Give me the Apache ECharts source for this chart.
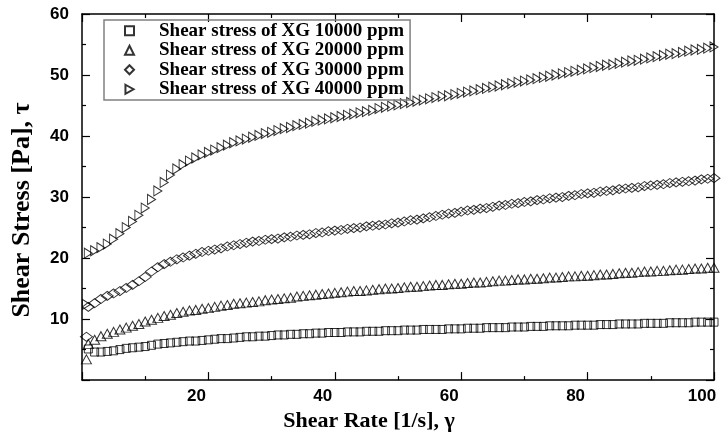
<!DOCTYPE html>
<html>
<head>
<meta charset="utf-8">
<script src="https://cdn.jsdelivr.net/npm/echarts@6.0.0/dist/echarts.min.js"></script>
<style>
  html, body { margin: 0; padding: 0; background: #fff; }
  #shearChart { width: 722px; height: 437px; }
</style>
</head>
<body>
<div id="shearChart"></div>
<script>
// shear rate [1/s]
const shearRate = [
  1, 2, 3, 4, 5, 6, 7, 8, 9, 10,
  11, 12, 13, 14, 15, 16, 17, 18, 19, 20,
  21, 22, 23, 24, 25, 26, 27, 28, 29, 30,
  31, 32, 33, 34, 35, 36, 37, 38, 39, 40,
  41, 42, 43, 44, 45, 46, 47, 48, 49, 50,
  51, 52, 53, 54, 55, 56, 57, 58, 59, 60,
  61, 62, 63, 64, 65, 66, 67, 68, 69, 70,
  71, 72, 73, 74, 75, 76, 77, 78, 79, 80,
  81, 82, 83, 84, 85, 86, 87, 88, 89, 90,
  91, 92, 93, 94, 95, 96, 97, 98, 99, 100
];
// shear stress [Pa] per concentration
const stressXG10000 = [
  5.1, 4.6, 4.6, 4.7, 4.8, 5.0, 5.2, 5.3, 5.4, 5.5,
  5.7, 5.9, 6.0, 6.1, 6.2, 6.3, 6.4, 6.4, 6.5, 6.6,
  6.7, 6.8, 6.8, 6.9, 7.0, 7.1, 7.1, 7.2, 7.2, 7.3,
  7.4, 7.4, 7.5, 7.5, 7.6, 7.6, 7.7, 7.7, 7.8, 7.8,
  7.8, 7.9, 7.9, 7.9, 8.0, 8.0, 8.0, 8.1, 8.1, 8.1,
  8.2, 8.2, 8.2, 8.3, 8.3, 8.3, 8.3, 8.4, 8.4, 8.4,
  8.5, 8.5, 8.5, 8.6, 8.6, 8.6, 8.6, 8.7, 8.7, 8.7,
  8.8, 8.8, 8.8, 8.9, 8.9, 8.9, 8.9, 9.0, 9.0, 9.0,
  9.0, 9.1, 9.1, 9.1, 9.2, 9.2, 9.2, 9.2, 9.3, 9.3,
  9.3, 9.3, 9.4, 9.4, 9.4, 9.4, 9.5, 9.5, 9.5, 9.5
];
const stressXG20000 = [
  5.9, 6.6, 7.2, 7.6, 7.9, 8.3, 8.6, 8.9, 9.2, 9.6,
  9.9, 10.2, 10.5, 10.7, 11.0, 11.2, 11.4, 11.5, 11.7, 11.8,
  12.0, 12.2, 12.3, 12.5, 12.6, 12.7, 12.8, 12.9, 13.1, 13.2,
  13.3, 13.4, 13.5, 13.7, 13.8, 13.9, 14.0, 14.1, 14.2, 14.3,
  14.4, 14.5, 14.6, 14.6, 14.7, 14.8, 14.9, 15.0, 15.0, 15.1,
  15.2, 15.3, 15.3, 15.4, 15.5, 15.6, 15.6, 15.7, 15.8, 15.8,
  15.9, 16.0, 16.0, 16.1, 16.2, 16.3, 16.3, 16.4, 16.5, 16.5,
  16.6, 16.6, 16.7, 16.8, 16.8, 16.9, 17.0, 17.0, 17.1, 17.1,
  17.2, 17.3, 17.3, 17.4, 17.5, 17.6, 17.6, 17.7, 17.8, 17.8,
  17.9, 17.9, 18.0, 18.1, 18.1, 18.2, 18.3, 18.3, 18.4, 18.4
];
const stressXG30000 = [
  12.0, 12.6, 13.3, 13.8, 14.2, 14.6, 15.1, 15.6, 16.2, 16.9,
  17.8, 18.5, 19.0, 19.4, 19.8, 20.1, 20.4, 20.7, 21.0, 21.2,
  21.4, 21.6, 21.9, 22.1, 22.3, 22.5, 22.7, 22.8, 23.0, 23.1,
  23.2, 23.4, 23.5, 23.7, 23.8, 23.9, 24.1, 24.2, 24.4, 24.5,
  24.6, 24.8, 24.9, 25.0, 25.2, 25.3, 25.4, 25.5, 25.7, 25.8,
  26.0, 26.2, 26.3, 26.5, 26.7, 26.9, 27.1, 27.3, 27.4, 27.6,
  27.8, 27.9, 28.1, 28.2, 28.4, 28.6, 28.7, 28.9, 29.0, 29.2,
  29.3, 29.5, 29.6, 29.8, 29.9, 30.0, 30.2, 30.3, 30.5, 30.6,
  30.7, 30.9, 31.0, 31.1, 31.3, 31.4, 31.5, 31.6, 31.8, 31.9,
  32.0, 32.1, 32.3, 32.4, 32.5, 32.6, 32.7, 32.9, 33.0, 33.1
];
const stressXG40000 = [
  20.8, 21.2, 21.7, 22.3, 23.1, 24.0, 25.0, 26.0, 27.0, 28.2,
  29.6, 31.0, 32.4, 33.6, 34.6, 35.3, 35.9, 36.4, 36.9, 37.3,
  37.7, 38.1, 38.5, 38.9, 39.2, 39.5, 39.8, 40.1, 40.4, 40.6,
  40.9, 41.2, 41.4, 41.7, 41.9, 42.1, 42.4, 42.6, 42.8, 43.0,
  43.2, 43.4, 43.6, 43.8, 44.0, 44.2, 44.5, 44.7, 44.9, 45.1,
  45.3, 45.5, 45.7, 45.9, 46.1, 46.3, 46.5, 46.6, 46.8, 47.0,
  47.2, 47.4, 47.6, 47.8, 48.0, 48.2, 48.4, 48.6, 48.8, 49.0,
  49.2, 49.4, 49.6, 49.8, 50.0, 50.2, 50.4, 50.6, 50.8, 51.0,
  51.2, 51.4, 51.6, 51.7, 51.9, 52.1, 52.3, 52.4, 52.6, 52.8,
  53.0, 53.2, 53.4, 53.5, 53.7, 53.9, 54.1, 54.2, 54.4, 54.6
];
// the stray first reading of each run, sitting at the level of the run below
const leadRate = 0.7;
const leadStress = [null, 3.4, 7.1, 12.4];

const seriesNames = [
  "Shear stress of XG 10000 ppm",
  "Shear stress of XG 20000 ppm",
  "Shear stress of XG 30000 ppm",
  "Shear stress of XG 40000 ppm",
];
const stressRuns = [stressXG10000, stressXG20000, stressXG30000, stressXG40000];
const xTicks = [0, 20, 40, 60, 80, 100];
const yTicks = [0, 10, 20, 30, 40, 50, 60];

// marker look per run
const markerShape = ["rect", "triangle", "diamond", "triangle"];
const markerSize = [[8, 8], [10, 9], [12, 9], [10, 8]];
const markerRotate = [0, 0, 0, -90];
// legend keys (the rotated triangle is not carried over to the legend, so draw it)
const legendIcon = ["rect", "triangle", "diamond", "path://M0,0L9,5L0,10Z"];

const chart = echarts.init(document.getElementById("shearChart"));

const sans = "Liberation Sans";
const serif = "Liberation Serif";
const black = "#000";

function axisBase(isX, withLabels) {
  const ticks = isX ? xTicks : yTicks;
  return {
    type: "value",
    min: ticks[0],
    max: ticks[ticks.length - 1],
    interval: ticks[1] - ticks[0],
    axisLine: { show: true, onZero: false, lineStyle: { color: black, width: 1.5 } },
    axisTick: { show: true, inside: true, length: 8, lineStyle: { color: black, width: 1.2 } },
    minorTick: { show: true, splitNumber: 2, length: 4, lineStyle: { color: black, width: 1.2 } },
    splitLine: { show: false },
    axisLabel: {
      show: withLabels,
      color: black,
      fontFamily: sans,
      fontWeight: "bold",
      fontSize: 17,
      margin: isX ? 8 : 13,
      padding: isX ? [0, 24, 0, 0] : [6, 0, 0, 0],
      formatter: (v) => (v === 0 ? "" : String(v)),
    },
  };
}

const series = stressRuns.map((run, k) => {
  const points = shearRate.map((x, i) => [x, run[i]]);
  if (leadStress[k] != null) points.unshift([leadRate, leadStress[k]]);
  return {
    name: seriesNames[k],
    type: "scatter",
    data: points,
    symbol: markerShape[k],
    symbolSize: markerSize[k],
    symbolRotate: markerRotate[k],
    itemStyle: { color: "rgba(0,0,0,0)", borderColor: black, borderWidth: 1 },
    emphasis: { disabled: true },
  };
});

const options = {
  animation: false,
  backgroundColor: "#fff",
  grid: { left: 82, right: 8, top: 14, bottom: 44 },
  legend: {
    orient: "vertical",
    left: 104,
    top: 20,
    padding: [1, 6, 1, 20],
    itemGap: 0,
    itemWidth: 9,
    itemHeight: 9,
    borderColor: "#808080",
    borderWidth: 1.5,
    data: seriesNames.map((name, k) => ({ name: name, icon: legendIcon[k] })),
    textStyle: {
      color: black,
      fontFamily: serif,
      fontWeight: "bold",
      fontSize: 19,
      lineHeight: 19.5,
      padding: [0, 0, 0, 20],
    },
  },
  xAxis: [
    Object.assign(axisBase(true, true), {
      position: "bottom",
      name: "Shear Rate [1/s], γ",
      nameLocation: "middle",
      nameGap: 23,
      nameTextStyle: {
        color: black,
        fontFamily: serif,
        fontWeight: "bold",
        fontSize: 22,
        padding: [0, 58, 0, 0],
      },
    }),
    Object.assign(axisBase(true, false), { position: "top" }),
  ],
  yAxis: [
    Object.assign(axisBase(false, true), {
      position: "left",
      name: "Shear Stress [Pa], τ",
      nameLocation: "middle",
      nameGap: 47,
      nameTextStyle: {
        color: black,
        fontFamily: serif,
        fontWeight: "bold",
        fontSize: 26,
        padding: [0, 26, 0, 0],
      },
    }),
    Object.assign(axisBase(false, false), { position: "right" }),
  ],
  series: series,
};

chart.setOption(options);
</script>
</body>
</html>
